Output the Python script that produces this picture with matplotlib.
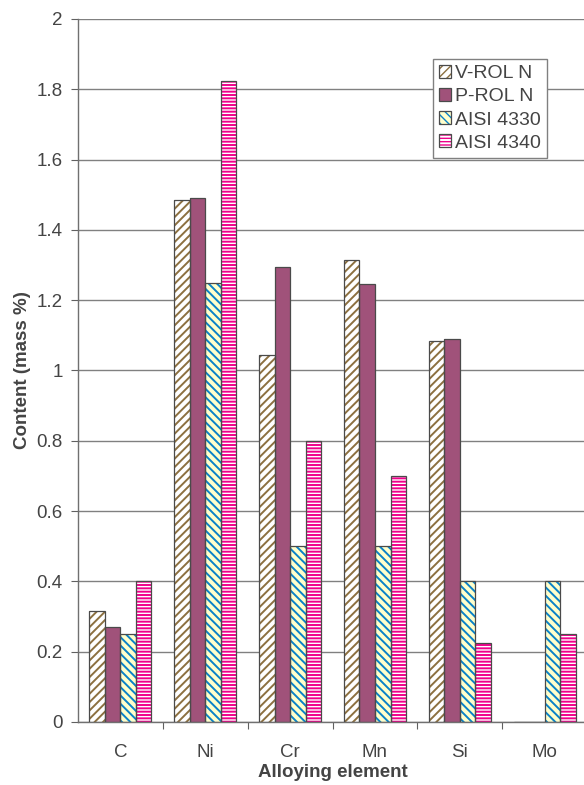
import numpy as np
import matplotlib
matplotlib.use("Agg")
import matplotlib.pyplot as plt
from matplotlib.legend_handler import HandlerTuple

plt.rcParams['font.family'] = ['Liberation Sans', 'DejaVu Sans']

# data
elements = ["C", "Ni", "Cr", "Mn", "Si", "Mo"]
v_rol_n = [0.315, 1.485, 1.045, 1.315, 1.085, 0.0]
p_rol_n = [0.27, 1.49, 1.295, 1.245, 1.09, 0.0]
aisi_4330 = [0.25, 1.25, 0.50, 0.50, 0.40, 0.40]
aisi_4340 = [0.40, 1.825, 0.80, 0.70, 0.225, 0.25]
series_names = ["V-ROL N", "P-ROL N", "AISI 4330", "AISI 4340"]
y_ticks = [0, 0.2, 0.4, 0.6, 0.8, 1, 1.2, 1.4, 1.6, 1.8, 2]
y_tick_labels = ["0", "0.2", "0.4", "0.6", "0.8", "1", "1.2", "1.4", "1.6", "1.8", "2"]

# face, hatch colour, hatch pattern, hatch width for each series
styles = [
    ("white", "#8C7040", "////", 1.4),
    ("#A0527A", "#A0527A", None, 1.0),
    ("#FFFFCC", "#0A82C8", "\\\\\\\\", 1.4),
    ("white", "#F0008C", "-----", 1.4),
]
outline = "#4A4A4A"
text_col = "#444444"

fig = plt.figure(figsize=(5.84, 7.85), dpi=100)
ax = fig.add_axes([0.1336, 0.0803, 0.8717, 0.8955])

x = np.arange(len(elements))
w = 0.183
handles = []
for i, vals in enumerate([v_rol_n, p_rol_n, aisi_4330, aisi_4340]):
    face, hcol, hatch, hlw = styles[i]
    pos = x + (i - 1.5) * w
    # hatch layer (hatch takes the edge colour), then the dark outline on top
    with plt.rc_context({'hatch.linewidth': hlw}):
        b1 = ax.bar(pos, vals, w, facecolor=face, edgecolor=hcol, hatch=hatch,
                    linewidth=0, zorder=2)
    b2 = ax.bar(pos, vals, w, facecolor="none", edgecolor=outline,
                linewidth=0.9, zorder=3)
    handles.append((b1.patches[0], b2.patches[0]))

ax.set_xlim(-0.5, 5.5)
ax.set_ylim(0, 2)
ax.set_yticks(y_ticks)
ax.set_yticklabels(y_tick_labels)
ax.yaxis.grid(True, color="#808080", linewidth=1.0)
ax.set_axisbelow(True)

# group boundaries as major ticks, names as minor labels
ax.set_xticks(np.arange(0.5, 5.6, 1.0))
ax.set_xticklabels([])
ax.set_xticks(x, minor=True)
ax.set_xticklabels(elements, minor=True)
ax.tick_params(axis="x", which="major", length=5, color="#606060", direction="out")
ax.tick_params(axis="x", which="minor", length=0, pad=16, labelsize=13.5, labelcolor=text_col)
ax.tick_params(axis="y", length=5, color="#606060", labelsize=13.5, labelcolor=text_col, pad=6)

for side in ["top", "right"]:
    ax.spines[side].set_visible(False)
for side in ["left", "bottom"]:
    ax.spines[side].set_color("#707070")
    ax.spines[side].set_linewidth(1.0)

ax.set_xlabel("Alloying element", fontsize=13.5, fontweight="bold", color=text_col, labelpad=2)
ax.set_ylabel("Content (mass %)", fontsize=13.5, fontweight="bold", color=text_col, labelpad=4)

leg = ax.legend(handles, series_names, handler_map={tuple: HandlerTuple(ndivide=1, pad=0)},
                loc="upper left", bbox_to_anchor=(0.697, 0.943), borderaxespad=0,
                fontsize=14, labelspacing=0.3, handlelength=0.65, handleheight=0.65,
                handletextpad=0.2, borderpad=0.3, fancybox=False, framealpha=1,
                edgecolor="#808080")
leg.get_frame().set_linewidth(1.0)
for t in leg.get_texts():
    t.set_color(text_col)

fig.savefig("out.png", dpi=100)
